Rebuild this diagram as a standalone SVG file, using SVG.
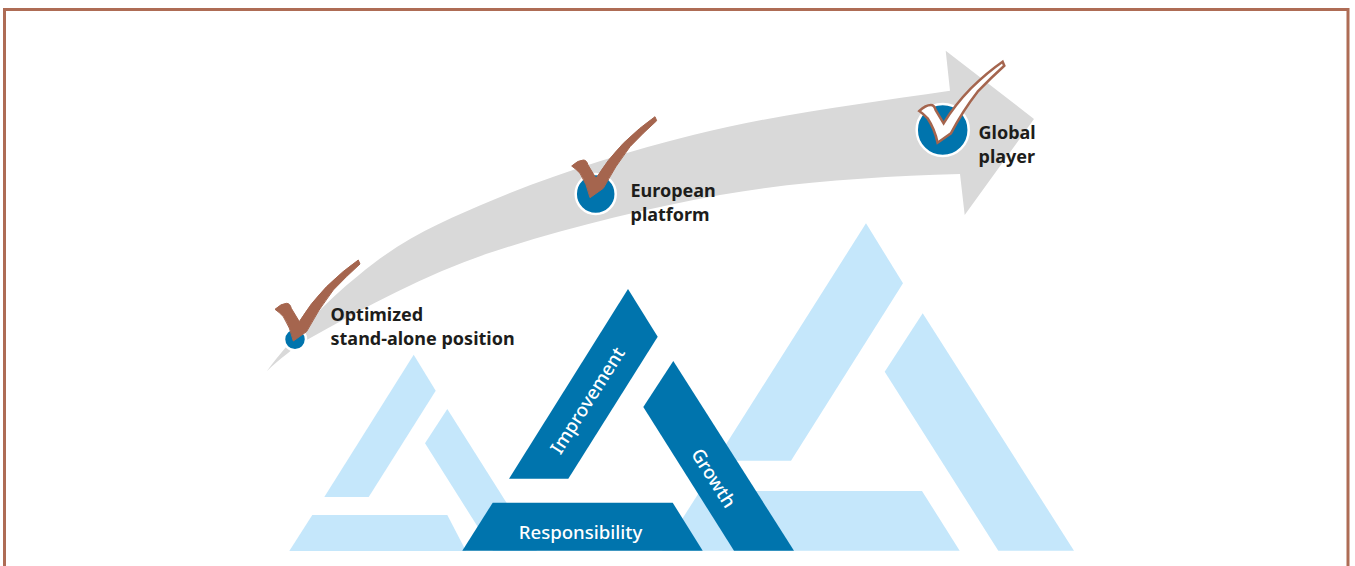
<svg xmlns="http://www.w3.org/2000/svg" xmlns:xlink="http://www.w3.org/1999/xlink" width="1355" height="566" viewBox="0 0 1355 566">
<style>
.pale{fill:#c5e7fb}
.blue{fill:#0074ad}
.ring{fill:#0074ad;stroke:#fff;stroke-width:2.5}
.lab{font-family:"Noto Sans","Open Sans","Liberation Sans",sans-serif;font-size:18px;font-weight:700;fill:#1d1d1b}
.wt{font-family:"Noto Sans","Open Sans","Liberation Sans",sans-serif;font-size:18.6px;font-weight:500;fill:#fff;text-anchor:middle}
.tick{fill:#a5654e;stroke:#a5654e;stroke-width:1}
</style>
<defs>
<path id="check" d="M571.7,166 Q578,160 583.3,160 Q586.7,160 588,165 L596,178.3 Q607,160 623.3,143.3 Q640,127 655,116.7 L656.7,120.7 Q643,133 630,146.7 Q615,166 603.3,188.3 L590,197.7 Q587,184 580,173.3 Q576,169 571.7,166 Z"/>
</defs>
<rect width="1355" height="566" fill="#fff"/>
<path id="frame" d="M4.5,566 V9.5 H1348 V566" fill="none" stroke="#ae6c55" stroke-width="3"/>
<g id="connectors">
<path d="M267,371 C290,340 325,302 359,275 C404,237 448,219 493,200 C560,172 626,152 693,135 C779,113.5 864,103.6 950,90.7 L945.7,50.7 L1034,119 L964.7,215 L960,174 C880,176.5 800,181 720,195 C644,209 569,227 493,251.7 C431,272 369,305 306.7,340 C292,349 280,359 267,371 Z" fill="#d9d9d9"/>
</g>
<g id="triangle-left">
<polygon class="pale" points="413.7,354.7 435.7,390.7 368.7,497 324.3,497"/>
<polygon class="pale" points="447.3,409 537,551 493,551 425,443.3"/>
<polygon class="pale" points="312.3,515 447.3,515 466,551 289.3,551"/>
</g>
<g id="triangle-right">
<polygon class="pale" points="866,223.3 903,283.3 791,460.7 715.6,460.7"/>
<polygon class="pale" points="922.7,313.3 1074,550.7 998.3,550.7 884.7,371.7"/>
<polygon class="pale" points="700,491 922,491 959.7,550.7 662,550.7"/>
</g>
<g id="improvement">
<polygon class="blue" points="628,289 657.7,336.7 568.3,478.7 509,478.7"/>
<text class="wt" transform="translate(593,404) rotate(-57.6)">Improvement</text>
</g>
<g id="growth">
<polygon class="blue" points="673.3,361 794,550.7 734,550.7 643.3,407"/>
<text class="wt" transform="translate(708,481.5) rotate(57.6)">Growth</text>
</g>
<g id="responsibility">
<polygon class="blue" points="492.7,502.7 672.7,502.7 702.7,550.7 462.3,550.7"/>
<text class="wt" x="580.5" y="539">Responsibility</text>
</g>
<g id="optimized">
<circle class="ring" cx="295" cy="339.3" r="11"/>
<use xlink:href="#check" href="#check" transform="translate(-296.7,143.3)" class="tick"/>
<text class="lab" x="330.5" y="321">Optimized</text>
<text class="lab" x="330.5" y="345">stand-alone position</text>
</g>
<g id="european">
<circle class="ring" cx="595.7" cy="194" r="20"/>
<use xlink:href="#check" href="#check" class="tick"/>
<text class="lab" x="630.5" y="197">European</text>
<text class="lab" x="630.5" y="221">platform</text>
</g>
<g id="global">
<circle class="ring" cx="942.7" cy="130" r="26"/>
<use xlink:href="#check" href="#check" transform="translate(347.6,-55)" fill="#fff" stroke="#a5654e" stroke-width="2.5"/>
<text class="lab" x="978.5" y="139">Global</text>
<text class="lab" x="978.5" y="163">player</text>
</g>
</svg>
